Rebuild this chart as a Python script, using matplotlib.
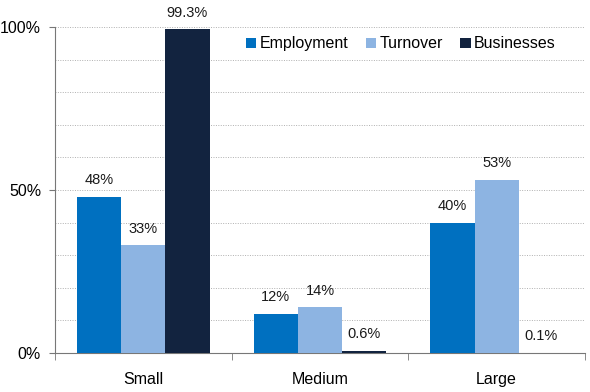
import numpy as np
import matplotlib
matplotlib.use('Agg')
import matplotlib.pyplot as plt
from matplotlib.ticker import MultipleLocator, FixedLocator, PercentFormatter

plt.rcParams['font.family'] = ['Liberation Sans', 'DejaVu Sans']

categories = ['Small', 'Medium', 'Large']
series = ['Employment', 'Turnover', 'Businesses']
employment = [48, 12, 40]
turnover = [33, 14, 53]
businesses = [99.3, 0.6, 0.1]
labels = [['48%', '12%', '40%'], ['33%', '14%', '53%'], ['99.3%', '0.6%', '0.1%']]
colors = ['#0070C0', '#8DB4E2', '#12233F']

fig = plt.figure(figsize=(5.9, 3.92), dpi=100)
ax = fig.add_axes([0.0932, 0.0995, 0.8983, 0.8315])

x = np.arange(len(categories))
width = 0.25
for i, (vals, name) in enumerate(zip([employment, turnover, businesses], series)):
    pos = x + (i - 1) * width
    ax.bar(pos, vals, width, color=colors[i], label=name, zorder=3)
    for p, v, t in zip(pos, vals, labels[i]):
        ax.text(p, v + 3, t, ha='center', va='bottom', fontsize=10.5, color='#1a1a1a')

ax.set_xlim(-0.5, 2.5)
ax.set_ylim(0, 100)
ax.yaxis.set_major_locator(FixedLocator([0, 50, 100]))
ax.yaxis.set_major_formatter(PercentFormatter(decimals=0))
ax.yaxis.set_minor_locator(MultipleLocator(10))
ax.yaxis.grid(True, which='both', linestyle=(0, (1, 1.5)), color='#b0b0b0', linewidth=0.7, zorder=0)
ax.set_axisbelow(True)

ax.set_xticks(x)
ax.set_xticklabels(categories, fontsize=11.5)
ax.xaxis.set_minor_locator(FixedLocator([-0.5, 0.5, 1.5, 2.5]))
ax.tick_params(axis='x', which='major', length=0, pad=14)
ax.tick_params(axis='x', which='minor', length=5, direction='out', color='#777777')
ax.tick_params(axis='y', which='major', labelsize=11.5, length=4, color='#777777', pad=6)
ax.tick_params(axis='y', which='minor', length=0)

for s in ['top', 'right']:
    ax.spines[s].set_visible(False)
ax.spines['left'].set_color('#777777')
ax.spines['bottom'].set_color('#777777')

ax.legend(loc='center right', bbox_to_anchor=(0.957, 0.948), ncol=3, frameon=False,
          fontsize=11.5, handlelength=0.65, handleheight=0.65, handletextpad=0.2,
          columnspacing=1.1, borderaxespad=0)

fig.savefig('out.png', dpi=100)
